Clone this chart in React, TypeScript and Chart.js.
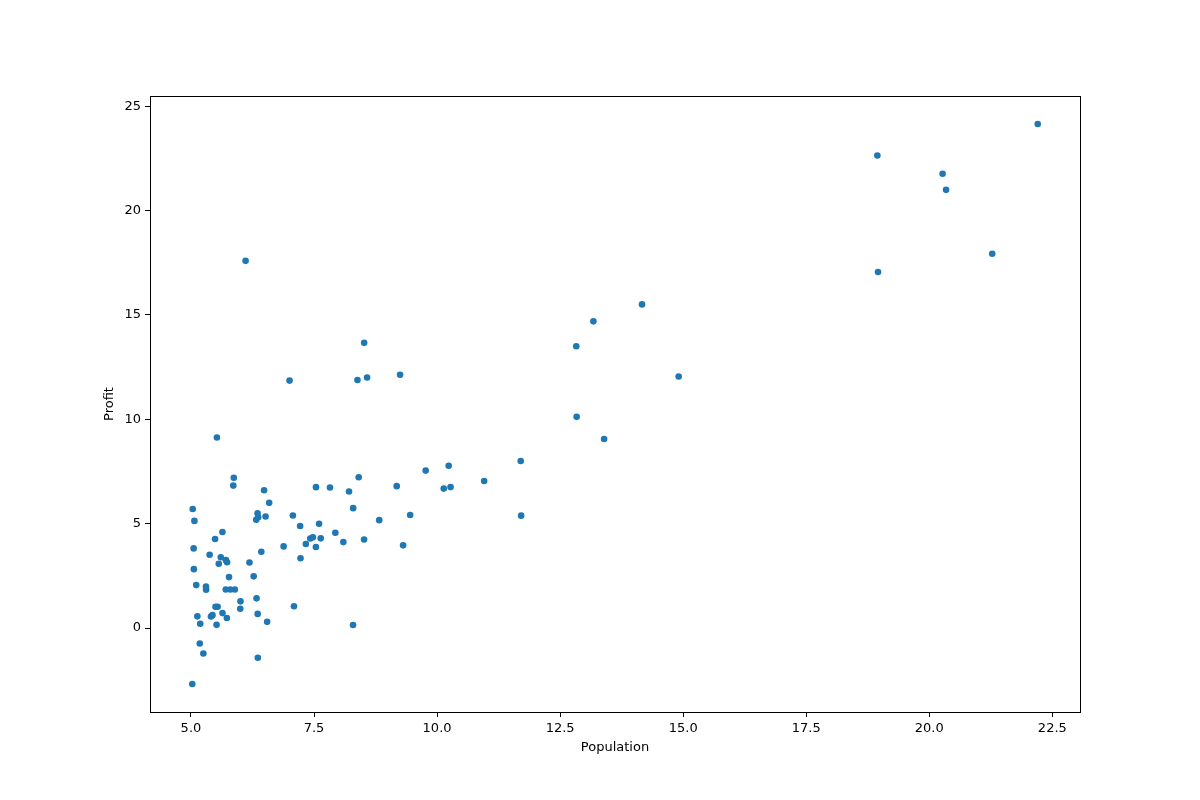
import React, { useEffect, useRef } from "react";
import { Chart, registerables } from "chart.js";

Chart.register(...registerables);

const population: number[] = [
  6.1101, 5.5277, 8.5186, 7.0032, 5.8598, 8.3829, 7.4764, 8.5781, 6.4862, 5.0546,
  5.7107, 14.164, 5.734, 8.4084, 5.6407, 5.3794, 6.3654, 5.1301, 6.4296, 7.0708,
  6.1891, 20.27, 5.4901, 6.3261, 5.5649, 18.945, 12.828, 10.957, 13.176, 22.203,
  5.2524, 6.5894, 9.2482, 5.8918, 8.2111, 7.9334, 8.0959, 5.6063, 12.836, 6.3534,
  5.4069, 6.8825, 11.708, 5.7737, 7.8247, 7.0931, 5.0702, 5.8014, 11.7, 5.5416,
  7.5402, 5.3077, 7.4239, 7.6031, 6.3328, 6.3589, 6.2742, 5.6397, 9.3102, 9.4536,
  8.8254, 5.1793, 21.279, 14.908, 18.959, 7.2182, 8.2951, 10.236, 5.4994, 20.341,
  10.136, 7.3345, 6.0062, 7.2259, 5.0269, 6.5479, 7.5386, 5.0365, 10.274, 5.1077,
  5.7292, 5.1884, 6.3557, 9.7687, 6.5159, 8.5172, 9.1802, 6.002, 5.5204, 5.0594,
  5.7077, 7.6366, 5.8707, 5.3054, 8.2934, 13.394, 5.4369,
];

const profit: number[] = [
  17.592, 9.1302, 13.662, 11.854, 6.8233, 11.886, 4.3483, 12, 6.5987, 3.8166,
  3.2522, 15.505, 3.1551, 7.2258, 0.71618, 3.5129, 5.3048, 0.56077, 3.6518, 5.3893,
  3.1386, 21.767, 4.263, 5.1875, 3.0825, 22.638, 13.501, 7.0467, 14.692, 24.147,
  -1.22, 5.9966, 12.134, 1.8495, 6.5426, 4.5623, 4.1164, 3.3928, 10.117, 5.4974,
  0.55657, 3.9115, 5.3854, 2.4406, 6.7318, 1.0463, 5.1337, 1.844, 8.0043, 1.0179,
  6.7504, 1.8396, 4.2885, 4.9981, 1.4233, -1.4211, 2.4756, 4.6042, 3.9624, 5.4141,
  5.1694, -0.74279, 17.929, 12.054, 17.054, 4.8852, 5.7442, 7.7754, 1.0173, 20.992,
  6.6799, 4.0259, 1.2784, 3.3411, -2.6807, 0.29678, 3.8845, 5.7014, 6.7526, 2.0576,
  0.47953, 0.20421, 0.67861, 7.5435, 5.3436, 4.2415, 6.7981, 0.92695, 0.152, 2.8214,
  1.8451, 4.2959, 7.2029, 1.9869, 0.14454, 9.0551, 0.61705,
];

const xTicks: number[] = [5.0, 7.5, 10.0, 12.5, 15.0, 17.5, 20.0, 22.5];
const yTicks: number[] = [0, 5, 10, 15, 20, 25];
const xLabel = "Population";
const yLabel = "Profit";

function pad(arr: number[]) {
  const mn = Math.min(...arr);
  const mx = Math.max(...arr);
  const d = (mx - mn) * 0.05;
  return [mn - d, mx + d];
}

const frame = {
  id: "frame",
  afterDraw(chart: any) {
    const { ctx, chartArea } = chart;
    ctx.save();
    ctx.strokeStyle = "#000";
    ctx.lineWidth = 1;
    ctx.strokeRect(
      Math.round(chartArea.left) + 0.5,
      Math.round(chartArea.top) + 0.5,
      Math.round(chartArea.right - chartArea.left),
      Math.round(chartArea.bottom - chartArea.top)
    );
    ctx.restore();
  },
};

export default function App() {
  const ref = useRef<HTMLCanvasElement | null>(null);
  useEffect(() => {
    if (!ref.current) return;
    const [xmin, xmax] = pad(population);
    const [ymin, ymax] = pad(profit);
    const font = { family: "DejaVu Sans", size: 13 };
    const chart = new Chart(ref.current, {
      type: "scatter",
      data: {
        datasets: [
          {
            data: population.map((x, i) => ({ x, y: profit[i] })),
            backgroundColor: "#1f77b4",
            borderWidth: 0,
            pointRadius: 3.3,
          },
        ],
      },
      options: {
        responsive: false,
        animation: false,
        layout: { padding: { left: 0, right: 120, top: 96, bottom: 0 } },
        plugins: { legend: { display: false }, tooltip: { enabled: false } },
        scales: {
          x: {
            type: "linear",
            min: xmin,
            max: xmax,
            afterBuildTicks: (s: any) => {
              s.ticks = xTicks.map((v) => ({ value: v }));
            },
            afterFit: (s: any) => {
              s.height = 88;
            },
            ticks: {
              color: "#000",
              font,
              padding: 4,
              maxRotation: 0,
              callback: (v: any) => Number(v).toFixed(1),
            },
            grid: {
              display: true,
              drawOnChartArea: false,
              drawTicks: true,
              tickLength: 5,
              color: "#000",
            },
            border: { display: false },
            title: {
              display: true,
              text: xLabel,
              color: "#000",
              font,
              padding: { top: 0, bottom: 45 },
            },
          },
          y: {
            type: "linear",
            min: ymin,
            max: ymax,
            afterBuildTicks: (s: any) => {
              s.ticks = yTicks.map((v) => ({ value: v }));
            },
            afterFit: (s: any) => {
              s.width = 150;
            },
            ticks: {
              color: "#000",
              font,
              padding: 4,
              callback: (v: any) => String(v),
            },
            grid: {
              display: true,
              drawOnChartArea: false,
              drawTicks: true,
              tickLength: 5,
              color: "#000",
            },
            border: { display: false },
            title: {
              display: true,
              text: yLabel,
              color: "#000",
              font,
              padding: { top: 102, bottom: 0 },
            },
          },
        },
      },
      plugins: [frame],
    } as any);
    return () => chart.destroy();
  }, []);
  return (
    <div style={{ position: "absolute", left: 0, top: 0, width: 1200, height: 800, background: "#fff" }}>
      <canvas ref={ref} width={1200} height={800} />
    </div>
  );
}
